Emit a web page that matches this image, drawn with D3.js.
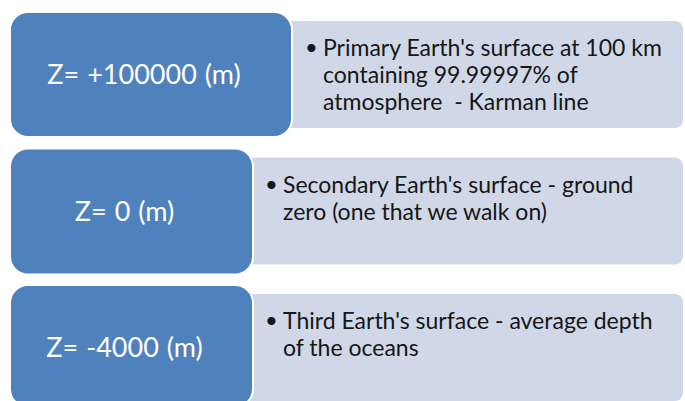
<!DOCTYPE html>
<html>
<head>
<meta charset="utf-8">
<script src="https://cdn.jsdelivr.net/npm/d3@7"></script>
<style>
  html, body { margin: 0; padding: 0; background: #ffffff; }
  svg { display: block; }
</style>
</head>
<body>
<svg id="chart" width="685" height="401"></svg>
<script>
// ---- data ----
const levels = ["Z= +100000 (m)", "Z= 0 (m)", "Z= -4000 (m)"];
const descriptions = [
  ["Primary Earth's surface at 100 km", "containing 99.99997% of", "atmosphere  - Karman line"],
  ["Secondary Earth's surface - ground", "zero (one that we walk on)"],
  ["Third Earth's surface - average depth", "of the oceans"]
];

// ---- layout ----
const blueColor = "#4f81bd", greyColor = "#d0d8e8";
const svg = d3.select("#chart");
const idx = d3.range(levels.length);
const yTop = d3.scalePoint().domain(idx).range([12, 285]);
const blueRight = [292, 253, 253];
const blueH = [125, 126, 122];
const font = "Lato, 'Open Sans', sans-serif";

const rows = svg.selectAll("g.row").data(idx).join("g").attr("class", "row");

// grey panels
rows.append("rect")
  .attr("x", i => blueRight[i] - 12)
  .attr("y", i => yTop(i) + 9)
  .attr("width", i => 683 - (blueRight[i] - 12))
  .attr("height", 107)
  .attr("rx", 8).attr("ry", 8)
  .attr("fill", greyColor);

// blue boxes
rows.append("rect")
  .attr("x", 10)
  .attr("y", i => yTop(i))
  .attr("width", i => blueRight[i] - 10)
  .attr("height", i => blueH[i])
  .attr("rx", 18).attr("ry", 18)
  .attr("fill", blueColor)
  .attr("stroke", "#ffffff").attr("stroke-width", 2);

// blue labels
rows.append("text")
  .attr("x", i => (10 + blueRight[i]) / 2 - 7)
  .attr("y", i => yTop(i) + 72)
  .attr("text-anchor", "middle")
  .attr("fill", "#ffffff")
  .attr("font-family", font)
  .attr("font-size", 27)
  .attr("word-spacing", 1)
  .text(i => levels[i]);

// bullets and description text
const lineH = 27;
rows.each(function(i) {
  const g = d3.select(this);
  const textX = blueRight[i] + 31 - (i === 0 ? 0 : 1);
  const firstBase = yTop(i) + 44;
  g.append("text")
    .attr("x", textX - 18)
    .attr("y", firstBase - 1)
    .attr("fill", "#161616")
    .attr("font-family", font)
    .attr("font-size", 22)
    .text("\u2022");
  g.selectAll("text.desc").data(descriptions[i]).join("text")
    .attr("class", "desc")
    .attr("x", textX)
    .attr("y", (d, j) => firstBase + j * lineH)
    .attr("fill", "#161616")
    .attr("font-family", font)
    .attr("font-size", 23)
    .attr("xml:space", "preserve")
    .text(d => d);
});
</script>
</body>
</html>
